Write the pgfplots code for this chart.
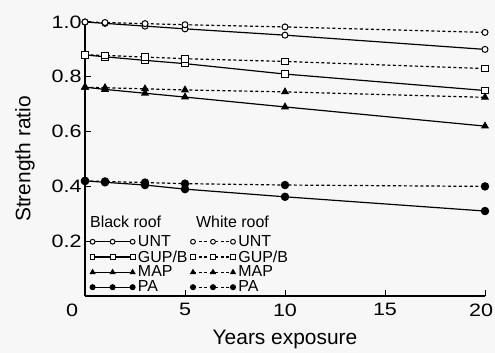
\documentclass[border=0pt]{standalone}
\usepackage{pgfplots}
\pgfplotsset{compat=1.18}
\usepackage{fontspec}
\setmainfont{Liberation Sans}
\newfontfamily\tickfont[FakeStretch=1.2]{Liberation Sans}
\definecolor{bg}{HTML}{F7F7F7}
\begin{document}
\begin{tikzpicture}
\fill[bg] (-85bp,-57bp) rectangle (410bp,296bp);
\useasboundingbox (-85bp,-57bp) rectangle (410bp,296bp);
\begin{axis}[
  scale only axis, width=400bp, height=274bp,
  xmin=0, xmax=20, ymin=0, ymax=1.0,
  axis x line=bottom, axis y line=left,
  axis line style={-, line width=1.1pt},
  tick align=inside, major tick length=6bp,
  every tick/.style={black, line width=1pt},
  xtick={0,5,10,15,20},
  xticklabels={\makebox[0pt][r]{0\hspace{7bp}},5,10,15,\makebox[0pt][r]{20\hspace{-8bp}}},
  ytick={0.2,0.4,0.6,0.8,1.0},
  yticklabels={0.2,0.4,0.6,0.8,1.0},
  tick label style={font=\tickfont\fontsize{18}{18}\selectfont},
  xticklabel style={yshift=-4bp},
  xlabel={Years exposure},
  ylabel={Strength ratio},
  label style={font=\fontsize{21}{21}\selectfont},
  xlabel style={at={(axis description cs:0.5,-0.16)}, anchor=center},
  ylabel style={at={(axis description cs:-0.15,0.5)}, anchor=center},
  clip=false,
  legend image code/.code={\draw[mark repeat=1,#1, mark size=2.4bp] plot coordinates {(0bp,0bp)(20bp,0bp)(40bp,0bp)};},
  legend columns=2,
  legend cell align=left,
  legend style={at={(axis cs:0.25,0.005)}, anchor=south west, draw=none, fill=none,
    inner sep=0pt, row sep=0.5bp, column sep=2bp,
    font=\fontsize{16}{16}\selectfont, nodes={inner sep=1bp}},
  blk/.style={black, line width=1.2pt, solid},
  wht/.style={black, line width=1.2pt, dash pattern=on 3bp off 2.5bp},
  munt/.style={mark=*, mark size=3bp, mark options={fill=white, solid, line width=1pt}},
  mgup/.style={mark=square*, mark size=3.3bp, mark options={fill=white, solid, line width=1pt}},
  mmap/.style={mark=triangle*, mark size=3.5bp, mark options={fill=black, solid}},
  mpa/.style={mark=*, mark size=3.6bp, mark options={fill=black, solid}},
]
% Black roof (solid)
\addplot[blk, munt, forget plot] coordinates {(0,1.0)(1,0.995)(3,0.985)(5,0.975)(10,0.952)(20,0.90)};
\addplot[blk, mgup, forget plot] coordinates {(0,0.88)(1,0.873)(3,0.86)(5,0.848)(10,0.81)(20,0.75)};
\addplot[blk, mmap, forget plot] coordinates {(0,0.762)(1,0.754)(3,0.74)(5,0.726)(10,0.69)(20,0.62)};
\addplot[blk, mpa, forget plot] coordinates {(0,0.42)(1,0.415)(3,0.405)(5,0.39)(10,0.362)(20,0.31)};
% White roof (dashed)
\addplot[wht, munt, forget plot] coordinates {(0,1.0)(1,0.998)(3,0.994)(5,0.99)(10,0.982)(20,0.962)};
\addplot[wht, mgup, forget plot] coordinates {(0,0.88)(1,0.878)(3,0.872)(5,0.866)(10,0.856)(20,0.83)};
\addplot[wht, mmap, forget plot] coordinates {(0,0.762)(1,0.76)(3,0.756)(5,0.752)(10,0.745)(20,0.725)};
\addplot[wht, mpa, forget plot] coordinates {(0,0.42)(1,0.418)(3,0.414)(5,0.41)(10,0.405)(20,0.40)};
% Legend
\addlegendimage{blk, munt}\addlegendentry{UNT}
\addlegendimage{wht, munt}\addlegendentry{UNT}
\addlegendimage{blk, mgup}\addlegendentry{GUP/B}
\addlegendimage{wht, mgup}\addlegendentry{GUP/B}
\addlegendimage{blk, mmap}\addlegendentry{MAP}
\addlegendimage{wht, mmap}\addlegendentry{MAP}
\addlegendimage{blk, mpa}\addlegendentry{PA}
\addlegendimage{wht, mpa}\addlegendentry{PA}
\node[anchor=west, font=\fontsize{16}{16}\selectfont, inner sep=0pt] at (axis cs:0.25,0.27) {Black roof};
\node[anchor=west, font=\fontsize{16}{16}\selectfont, inner sep=0pt] at (axis cs:5.55,0.27) {White roof};
\end{axis}
\end{tikzpicture}
\end{document}
